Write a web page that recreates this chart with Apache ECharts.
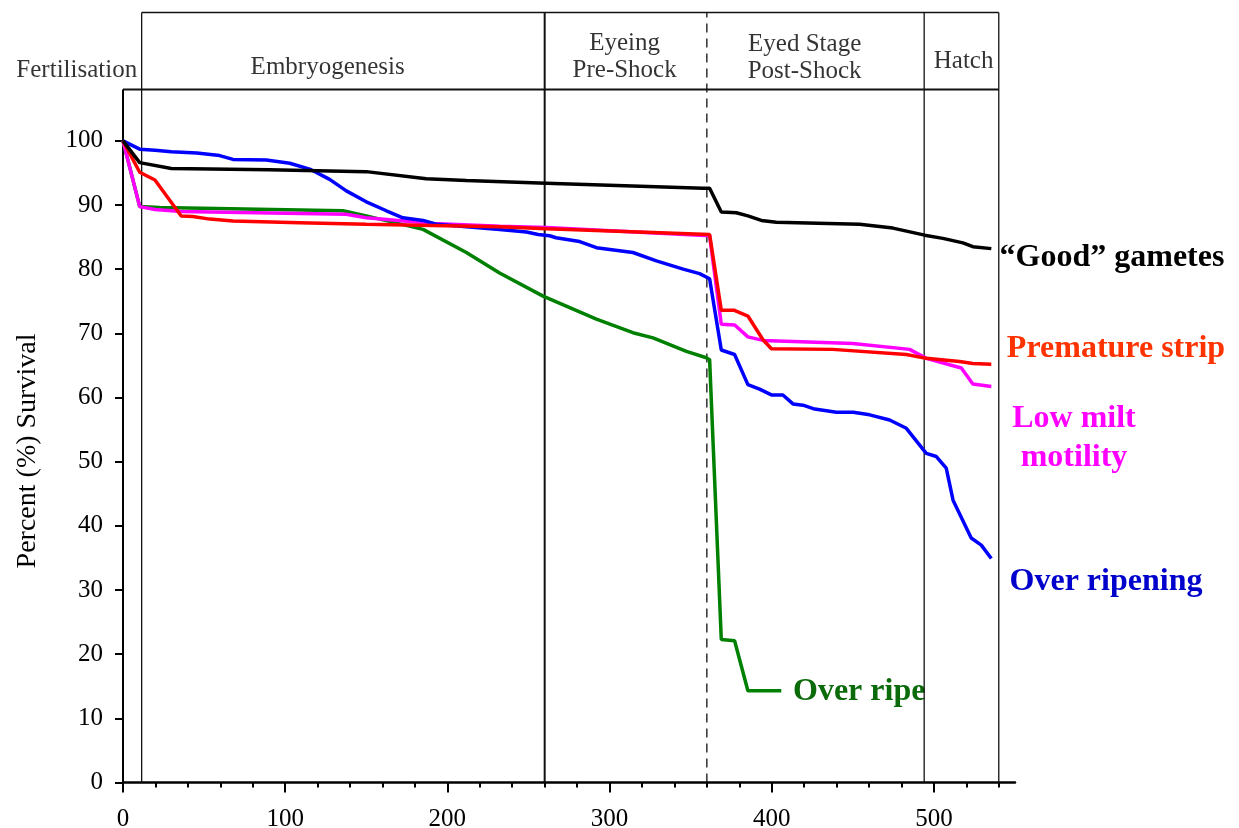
<!DOCTYPE html>
<html>
<head>
<meta charset="utf-8">
<script src="https://cdn.jsdelivr.net/npm/echarts@6/dist/echarts.min.js"></script>
<style>html,body{margin:0;padding:0;background:#fff}#c{width:1239px;height:828px}</style>
</head>
<body>
<div id="c"></div>
<script>
// ---- data (x = time, y = percent survival) ----
const goodGametes = [[0,100],[10.3,96.6],[29.8,95.7],[90,95.5],[150,95.2],[187,94.1],[211.7,93.8],[261,93.4],[357.6,92.6],[361.7,92.6],[368.9,88.9],[378.2,88.8],[385.3,88.3],[393.6,87.6],[402.8,87.3],[454.2,87.0],[474.7,86.4],[494.3,85.3],[505.5,84.8],[517.9,84.1],[524,83.5],[535.4,83.2]];
const prematureStrip = [[0,100],[10.3,95.1],[19.7,93.9],[35.9,88.3],[43,88.2],[53.5,87.8],[67.8,87.5],[108.9,87.25],[150,87.0],[191,86.8],[232,86.6],[261,86.3],[361.7,85.4],[368.9,73.6],[376.6,73.6],[385.3,72.7],[394.6,69.0],[399.8,67.6],[437.5,67.5],[483,66.7],[495.3,66.1],[515.8,65.6],[524,65.3],[535.4,65.2]];
const lowMilt = [[0,100],[10.3,89.75],[19.7,89.3],[35.9,89.0],[137.7,88.55],[150,88.0],[191,87.1],[232.2,86.7],[261,86.5],[361.7,85.2],[368.9,71.4],[377.2,71.3],[385.3,69.45],[394.6,68.9],[450,68.4],[485,67.5],[495.3,66.1],[516.9,64.6],[524,62.1],[535.4,61.7]];
const overRipe = [[0,100],[10.3,89.75],[22.6,89.6],[135.6,89.1],[150,88.3],[185,86.2],[211.7,82.6],[232.2,79.4],[259,75.8],[291.9,72.2],[314.4,70.1],[326.8,69.3],[347.4,67.2],[359.7,66.2],[361.7,65.9],[368.9,22.3],[377.1,22.1],[385.3,14.3],[405.9,14.3]];
const overRipening = [[0,100],[10.3,98.7],[19.7,98.55],[29.8,98.3],[45.5,98.1],[59.6,97.7],[67.8,97.1],[88.4,97.0],[102.8,96.5],[115.1,95.6],[127.4,94.0],[137.7,92.2],[150,90.5],[162.4,89.1],[172.6,88.0],[185,87.6],[193.2,87.0],[232.2,86.2],[248.8,85.8],[256,85.4],[263,85.2],[267,84.9],[281.6,84.3],[291.9,83.35],[314.4,82.6],[328.9,81.3],[345.4,80.0],[355.5,79.3],[361.7,78.5],[368.9,67.4],[377.1,66.7],[385.3,62.0],[392.5,61.3],[399.8,60.4],[406.9,60.4],[413.1,59.0],[419.3,58.8],[426.5,58.2],[439.9,57.7],[450.2,57.7],[460.4,57.3],[472.7,56.5],[483,55.2],[495.3,51.3],[501.5,50.8],[507.6,49.0],[511.8,44.0],[523,38.1],[529.2,37.0],[535.4,34.9]];

const xTickLabels = [0,100,200,300,400,500];
const xMinorTicks = [20,40,60,80,120,140,160,180,220,240,260,280,320,340,360,380,420,440,460,480,520,540];
const yTickLabels = [0,10,20,30,40,50,60,70,80,90,100];

// stage boundaries (x) and header text
const stageLines = [11.5, 260, 360, 494, 540];
const stageNames = ['Fertilisation','Embryogenesis','Eyeing\nPre-Shock','Eyed Stage\nPost-Shock','Hatch'];
const stageLabelX = [-28.5, 126.2, 309.3, 420.3, 518.3];
const stageLabelY = [111.0, 111.5, 113.1, 112.9, 112.4];
const plotTop = 108, headerTop = 120;

const FONT = '"Liberation Serif", "DejaVu Serif", serif';
const chart = echarts.init(document.getElementById('c'), null, {renderer:'canvas'});

function vline(x, dashed, width) {
  return {type:'line', data:[[x,0],[x,headerTop]], showSymbol:false, silent:true, clip:false,
    lineStyle:{color:'#111', width:width, type: dashed ? [9,6] : 'solid'}, z:1, animation:false};
}
function hline(x0, x1, y, width) {
  return {type:'line', data:[[x0,y],[x1,y]], showSymbol:false, silent:true, clip:false,
    lineStyle:{color:'#111', width:width}, z:1, animation:false};
}
function curve(data, color) {
  return {type:'line', data:data, showSymbol:false, clip:false, lineStyle:{color:color, width:3.5}, z:5, animation:false};
}

const series = [
  // frame
  {type:'line', data:[[0,0],[0,plotTop]], showSymbol:false, silent:true, clip:false, lineStyle:{color:'#000', width:2}, z:2, animation:false},
  hline(0, stageLines[4], plotTop, 2.2),
  hline(stageLines[0], stageLines[4], headerTop, 1.5),
  vline(stageLines[0], false, 1.3),
  vline(stageLines[1], false, 2),
  vline(stageLines[2], true, 1.3),
  vline(stageLines[3], false, 1.3),
  vline(stageLines[4], false, 1.3),
  // header labels
  {type:'scatter', symbolSize:0, clip:false, silent:true, animation:false,
   data: stageNames.map((n,i)=>({name:n, value:[stageLabelX[i], stageLabelY[i]]})),
   label:{show:true, position:'inside', formatter:'{b}', color:'#000', fontFamily:FONT, fontSize:25, lineHeight:27}},
  // curves
  curve(overRipe, '#008000'),
  curve(lowMilt, '#ff00ff'),
  curve(overRipening, '#0000ff'),
  curve(prematureStrip, '#ff0000'),
  curve(goodGametes, '#000000')
];

const endLabels = [
  {text:'\u201cGood\u201d gametes', x:1112, y:258, color:'#000000', align:'center'},
  {text:'Premature strip', x:1116, y:349, color:'#ff3300', align:'center'},
  {text:'Low milt\nmotility', x:1074, y:438, color:'#ff00ff', align:'center'},
  {text:'Over ripening', x:1106, y:582, color:'#0000cc', align:'center'},
  {text:'Over ripe', x:793, y:692, color:'#0b6b0b', align:'left'}
];

const graphics = endLabels.map(l=>({type:'text', x:l.x, y:l.y, silent:true,
     style:{text:l.text, fill:l.color, font:'bold 32px ' + FONT, align:l.align, verticalAlign:'middle', lineHeight:39}}));
graphics.push({type:'text', x:28, y:451, rotation:Math.PI/2, silent:true,
     style:{text:'Percent (%) Survival', fill:'#000', font:'28px ' + FONT, align:'center', verticalAlign:'middle'}});

chart.setOption({
  backgroundColor:'#fff',
  animation:false,
  grid:{left:123, right:224, top:12.5, bottom:45.5, containLabel:false, outerBoundsMode:'none'},
  xAxis:[
    {type:'value', min:0, max:550, position:'bottom',
     axisLine:{show:true, onZero:false, lineStyle:{color:'#000', width:2.5}},
     axisTick:{show:true, customValues:xTickLabels, length:10, lineStyle:{color:'#000', width:2}},
     axisLabel:{customValues:xTickLabels, color:'#000', fontFamily:FONT, fontSize:25, margin:24},
     splitLine:{show:false}},
    {type:'value', min:0, max:550, position:'bottom',
     axisLine:{show:false},
     axisTick:{show:true, customValues:xMinorTicks, length:5, lineStyle:{color:'#000', width:2}},
     axisLabel:{show:false}, splitLine:{show:false}}
  ],
  yAxis:{type:'value', min:0, max:120,
     axisLine:{show:false},
     axisTick:{show:true, customValues:yTickLabels, length:8, lineStyle:{color:'#000', width:2}},
     axisLabel:{customValues:yTickLabels, color:'#000', fontFamily:FONT, fontSize:25, margin:20},
     splitLine:{show:false}},
  series: series,
  graphic: graphics
});
</script>
</body>
</html>
